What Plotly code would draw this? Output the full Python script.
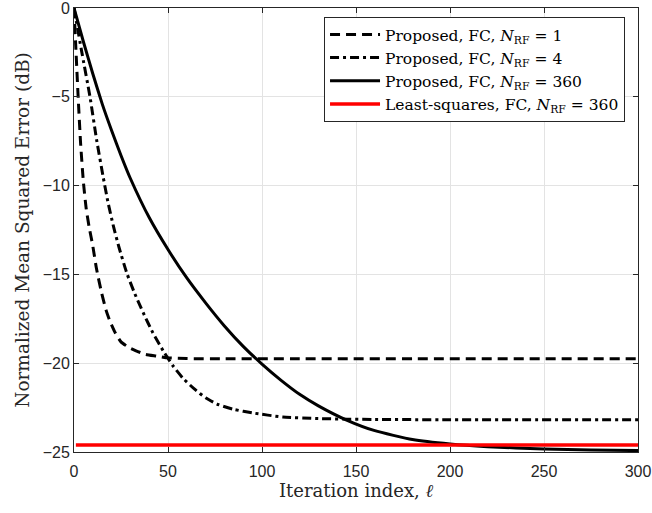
import plotly.graph_objects as go

# Proposed, FC, N_RF = 1 (dashed)
nrf1_x = [0, 1, 2.2, 3.5, 5, 6.5, 8, 10, 12, 14.6, 17, 19, 22, 25, 29, 33, 38, 44, 50, 60, 80, 120, 200, 300]
nrf1_y = [0, -2.3, -5.0, -7.6, -9.8, -11.3, -12.3, -13.4, -14.7, -16.0, -17.0, -17.6, -18.3, -18.8, -19.1, -19.3, -19.5, -19.6, -19.7, -19.74, -19.75, -19.75, -19.75, -19.75]

# Proposed, FC, N_RF = 4 (dash-dot)
nrf4_x = [0, 4, 8.5, 12, 15.5, 18, 21, 24, 28, 32, 37, 42, 48, 53, 58, 64, 70, 76, 85, 95, 111, 130, 160, 200, 300]
nrf4_y = [0, -2.4, -5.0, -7.4, -9.5, -10.9, -12.3, -13.5, -14.9, -16.0, -17.2, -18.3, -19.4, -20.2, -20.85, -21.45, -21.95, -22.3, -22.6, -22.8, -23.03, -23.12, -23.17, -23.18, -23.18]

# Proposed, FC, N_RF = 360 (solid)
nrf360_x = [0, 5, 10, 15, 20, 25, 30, 40, 50, 60, 70, 80, 90, 100, 110, 120, 130, 145, 160, 180, 200, 220, 250, 275, 300]
nrf360_y = [0, -1.9, -3.7, -5.4, -6.9, -8.3, -9.6, -11.8, -13.6, -15.2, -16.6, -17.9, -19.05, -20.05, -20.95, -21.75, -22.4, -23.2, -23.8, -24.3, -24.55, -24.7, -24.83, -24.89, -24.92]

# Least-squares, FC, N_RF = 360 (red)
ls_x = [1, 300]
ls_y = [-24.6, -24.6]

x_ticks = [0, 50, 100, 150, 200, 250, 300]
y_ticks = [-25, -20, -15, -10, -5, 0]

names = [
    "Proposed, FC, <i>N</i><sub>RF</sub> = 1",
    "Proposed, FC, <i>N</i><sub>RF</sub> = 4",
    "Proposed, FC, <i>N</i><sub>RF</sub> = 360",
    "Least-squares, FC, <i>N</i><sub>RF</sub> = 360",
]

SERIF = "DejaVu Serif, serif"

fig = go.Figure()
fig.add_trace(go.Scatter(x=nrf1_x, y=nrf1_y, mode="lines", name=names[0],
                         line=dict(color="black", width=3, dash="10px,6px", shape="spline", smoothing=0.5)))
fig.add_trace(go.Scatter(x=nrf4_x, y=nrf4_y, mode="lines", name=names[1],
                         line=dict(color="black", width=3, dash="9px,4px,3px,4px", shape="spline", smoothing=0.5)))
fig.add_trace(go.Scatter(x=nrf360_x, y=nrf360_y, mode="lines", name=names[2],
                         line=dict(color="black", width=3, shape="spline", smoothing=0.5)))
fig.add_trace(go.Scatter(x=ls_x, y=ls_y, mode="lines", name=names[3],
                         line=dict(color="#ff0000", width=3.5)))

axis_common = dict(
    showline=True, linecolor="#262626", linewidth=1, mirror="ticks",
    ticks="inside", ticklen=5, tickcolor="#262626",
    showgrid=True, gridcolor="#e3e3e3", gridwidth=1,
    zeroline=False, automargin=False, ticklabeloverflow="allow",
    tickfont=dict(family="Liberation Sans, Arial", size=16, color="#262626"),
)

fig.update_layout(
    width=652, height=513,
    margin=dict(l=74, r=14, t=8, b=61),
    paper_bgcolor="white", plot_bgcolor="white",
    showlegend=True,
    legend=dict(
        x=0.977, y=0.98, xanchor="right", yanchor="top",
        bgcolor="white", bordercolor="#262626", borderwidth=1,
        font=dict(family=SERIF, size=15.5, color="black"),
        itemwidth=50, tracegroupgap=0,
    ),
    xaxis=dict(
        range=[0, 300], tickvals=x_ticks, ticklabelstandoff=5,
        title=dict(text="Iteration index, <i>ℓ</i>", standoff=4,
                   font=dict(family=SERIF, size=18, color="#262626")),
        **axis_common,
    ),
    yaxis=dict(
        range=[-25, 0], tickvals=y_ticks,
        title=dict(text="Normalized Mean Squared Error (dB)", standoff=8,
                   font=dict(family=SERIF, size=18.5, color="#262626")),
        **axis_common,
    ),
)

fig.write_html("out.html", config={"displayModeBar": False},
               post_script="document.body.style.margin='0';document.body.style.overflow='hidden';")
